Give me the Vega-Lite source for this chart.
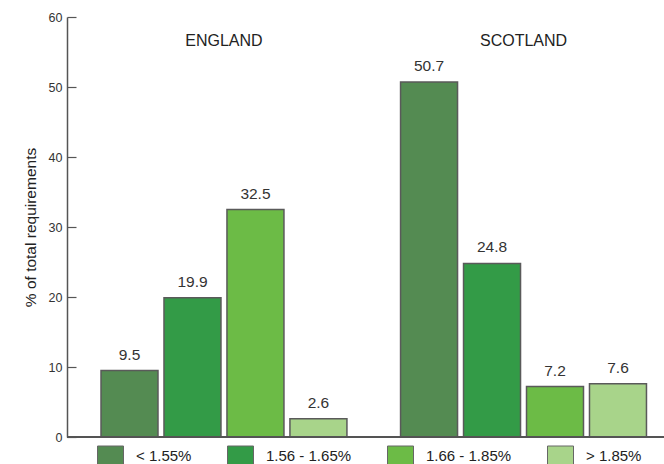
{
  "$schema": "https://vega.github.io/schema/vega-lite/v6.json",
  "width": 597,
  "height": 420,
  "autosize": {"type": "none"},
  "padding": {"left": 67, "top": 17, "right": 0, "bottom": 27},
  "background": "white",
  "config": {
    "view": {"stroke": null},
    "font": "Liberation Sans",
    "text": {"font": "Liberation Sans"}
  },
  "data": {
    "values": [
      {"country": "ENGLAND", "band": "< 1.55%", "value": 9.5},
      {"country": "ENGLAND", "band": "1.56 - 1.65%", "value": 19.9},
      {"country": "ENGLAND", "band": "1.66 - 1.85%", "value": 32.5},
      {"country": "ENGLAND", "band": "> 1.85%", "value": 2.6},
      {"country": "SCOTLAND", "band": "< 1.55%", "value": 50.7},
      {"country": "SCOTLAND", "band": "1.56 - 1.65%", "value": 24.8},
      {"country": "SCOTLAND", "band": "1.66 - 1.85%", "value": 7.2},
      {"country": "SCOTLAND", "band": "> 1.85%", "value": 7.6}
    ]
  },
  "encoding": {
    "x": {
      "field": "country",
      "type": "nominal",
      "sort": ["ENGLAND", "SCOTLAND"],
      "scale": {"paddingInner": 0.179, "paddingOuter": 0.086, "align": 0.66},
      "axis": {
        "orient": "top",
        "title": null,
        "domain": false,
        "ticks": false,
        "labelAngle": 0,
        "labelPadding": -31,
        "labelFontSize": 16,
        "labelColor": "#222",
        "labelFont": "Liberation Sans"
      }
    },
    "xOffset": {
      "field": "band",
      "type": "nominal",
      "sort": ["< 1.55%", "1.56 - 1.65%", "1.66 - 1.85%", "> 1.85%"],
      "scale": {"paddingInner": 0.095, "paddingOuter": 0}
    },
    "y": {
      "field": "value",
      "type": "quantitative",
      "scale": {"domain": [0, 60]},
      "axis": {
        "title": "% of total requirements",
        "titleFontSize": 15.5,
        "titleFontWeight": "normal",
        "titleColor": "#222",
        "titlePadding": 10,
        "titleFont": "Liberation Sans",
        "values": [0, 10, 20, 30, 40, 50, 60],
        "grid": false,
        "domainColor": "#555",
        "domainWidth": 1.5,
        "tickColor": "#555",
        "tickWidth": 1.2,
        "tickSize": -9,
        "labelPadding": 14,
        "labelFontSize": 12.5,
        "labelColor": "#333",
        "labelFont": "Liberation Sans"
      }
    }
  },
  "layer": [
    {
      "mark": {"type": "bar", "stroke": "#5a5a5a", "strokeWidth": 1.5},
      "encoding": {
        "fill": {
          "field": "band",
          "type": "nominal",
          "sort": ["< 1.55%", "1.56 - 1.65%", "1.66 - 1.85%", "> 1.85%"],
          "scale": {
            "domain": ["< 1.55%", "1.56 - 1.65%", "1.66 - 1.85%", "> 1.85%"],
            "range": ["#548b52", "#339b47", "#6cbb46", "#a8d48a"]
          },
          "legend": {
            "title": null,
            "orient": "none",
            "legendX": 30,
            "legendY": 425,
            "direction": "horizontal",
            "symbolType": "M-1,-0.73H1V0.73H-1Z",
            "symbolSize": 676,
            "symbolStrokeColor": "#666",
            "symbolStrokeWidth": 1,
            "symbolOpacity": 1,
            "labelOffset": 12,
            "labelFontSize": 15,
            "labelColor": "#222",
            "labelFont": "Liberation Sans",
            "columnPadding": 33,
            "gridAlign": "each"
          }
        }
      }
    },
    {
      "mark": {"type": "text", "baseline": "bottom", "dy": -8, "fontSize": 15.5, "color": "#333"},
      "encoding": {
        "text": {"field": "value", "type": "quantitative", "format": ".1f"}
      }
    },
    {
      "mark": {"type": "rule", "color": "#555", "strokeWidth": 1.5},
      "encoding": {"x": {"value": 0}, "x2": {"value": 597}, "y": {"datum": 0}, "xOffset": null}
    }
  ]
}
